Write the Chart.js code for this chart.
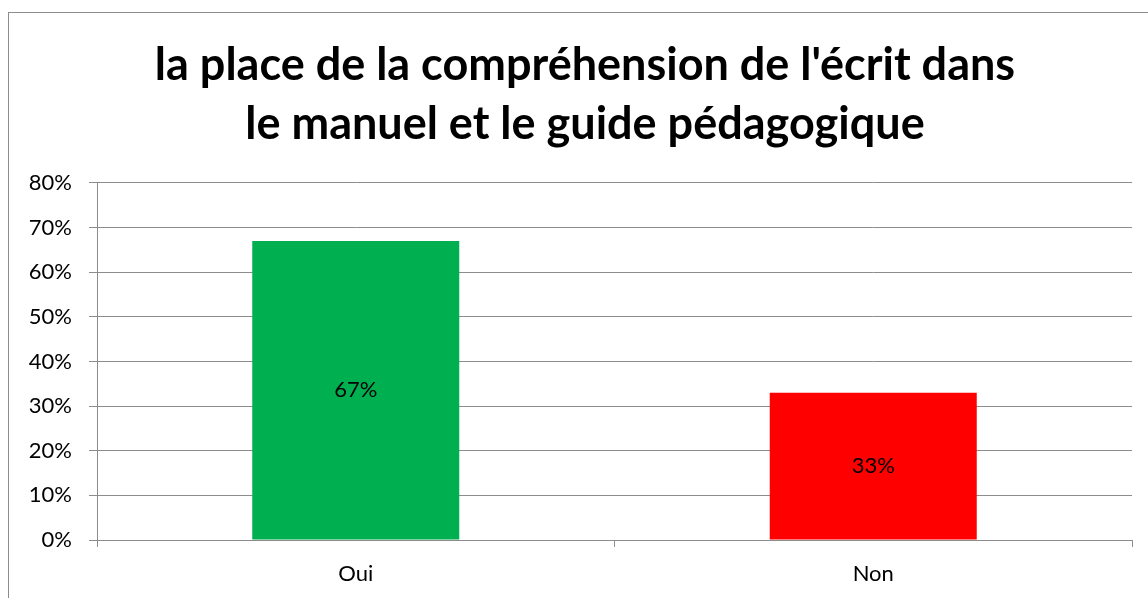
<!DOCTYPE html>
<html lang="fr">
  <head>
    <meta charset="UTF-8" />
    <title>la place de la compréhension de l'écrit</title>
    <script src="https://cdn.jsdelivr.net/npm/chart.js@4.4.0/dist/chart.umd.min.js"></script>
    <style>
      html, body { margin: 0; padding: 0; background: #fff; overflow: hidden; }
      #frame {
        position: absolute; left: 8px; top: 12px;
        width: 1300px; height: 800px;
        border: 1px solid #8c8c8c;
      }
      #wrap { position: absolute; left: 0; top: 0; width: 1148px; height: 598px; }
    </style>
  </head>
  <body>
    <div id="frame"></div>
    <div id="wrap"><canvas id="myChart" width="1148" height="598"></canvas></div>

    <script>
      const categories = ['Oui', 'Non'];
      const values = [0.67, 0.33];
      const barColors = ['#00b050', '#ff0000'];
      const titleLines = ["la place de la compréhension de l'écrit dans", 'le manuel et le guide pédagogique'];

      const font = 'Lato, Calibri, sans-serif';

      // writes the percentage in the middle of each bar
      const barLabels = {
        id: 'barLabels',
        afterDatasetsDraw(chart) {
          const ctx = chart.ctx;
          const meta = chart.getDatasetMeta(0);
          ctx.save();
          ctx.font = '22px ' + font;
          ctx.fillStyle = '#000';
          ctx.textAlign = 'center';
          ctx.textBaseline = 'middle';
          meta.data.forEach((bar, i) => {
            const mid = (bar.y + bar.base) / 2;
            ctx.fillText(Math.round(values[i] * 100) + '%', bar.x, mid);
          });
          ctx.restore();
        }
      };

      // the title in the original is centred a bit right of the canvas middle
      const shiftTitle = {
        id: 'shiftTitle',
        afterLayout(chart) {
          if (chart.titleBlock) chart.titleBlock.left = 38;
        }
      };

      const ctx = document.getElementById('myChart').getContext('2d');
      const myChart = new Chart(ctx, {
        type: 'bar',
        data: {
          labels: categories,
          datasets: [
            {
              data: values,
              backgroundColor: barColors,
              borderWidth: 0,
              barPercentage: 0.4,
              categoryPercentage: 1
            }
          ]
        },
        plugins: [barLabels, shiftTitle],
        options: {
          responsive: false,
          animation: false,
          layout: { padding: { left: 0, right: 16, top: 0, bottom: 0 } },
          plugins: {
            legend: { display: false },
            tooltip: { enabled: false },
            title: {
              display: true,
              text: titleLines,
              color: '#000',
              font: { family: font, size: 45, weight: 'bold', lineHeight: 1.333 },
              padding: { top: 35, bottom: 28 }
            }
          },
          scales: {
            x: {
              afterFit(scale) { scale.height = 58; },
              grid: { drawOnChartArea: false, drawTicks: true, tickLength: 7, color: '#8c8c8c' },
              border: { color: '#8c8c8c' },
              ticks: { color: '#000', font: { family: font, size: 22 }, padding: 14 }
            },
            y: {
              min: 0,
              max: 0.8,
              afterFit(scale) { scale.width = 97; },
              grid: { color: '#8c8c8c', tickLength: 8 },
              border: { color: '#8c8c8c' },
              ticks: {
                stepSize: 0.1,
                color: '#000',
                padding: 17,
                font: { family: font, size: 22 },
                callback: v => Math.round(v * 100) + '%'
              }
            }
          }
        }
      });
    </script>
  </body>
</html>
